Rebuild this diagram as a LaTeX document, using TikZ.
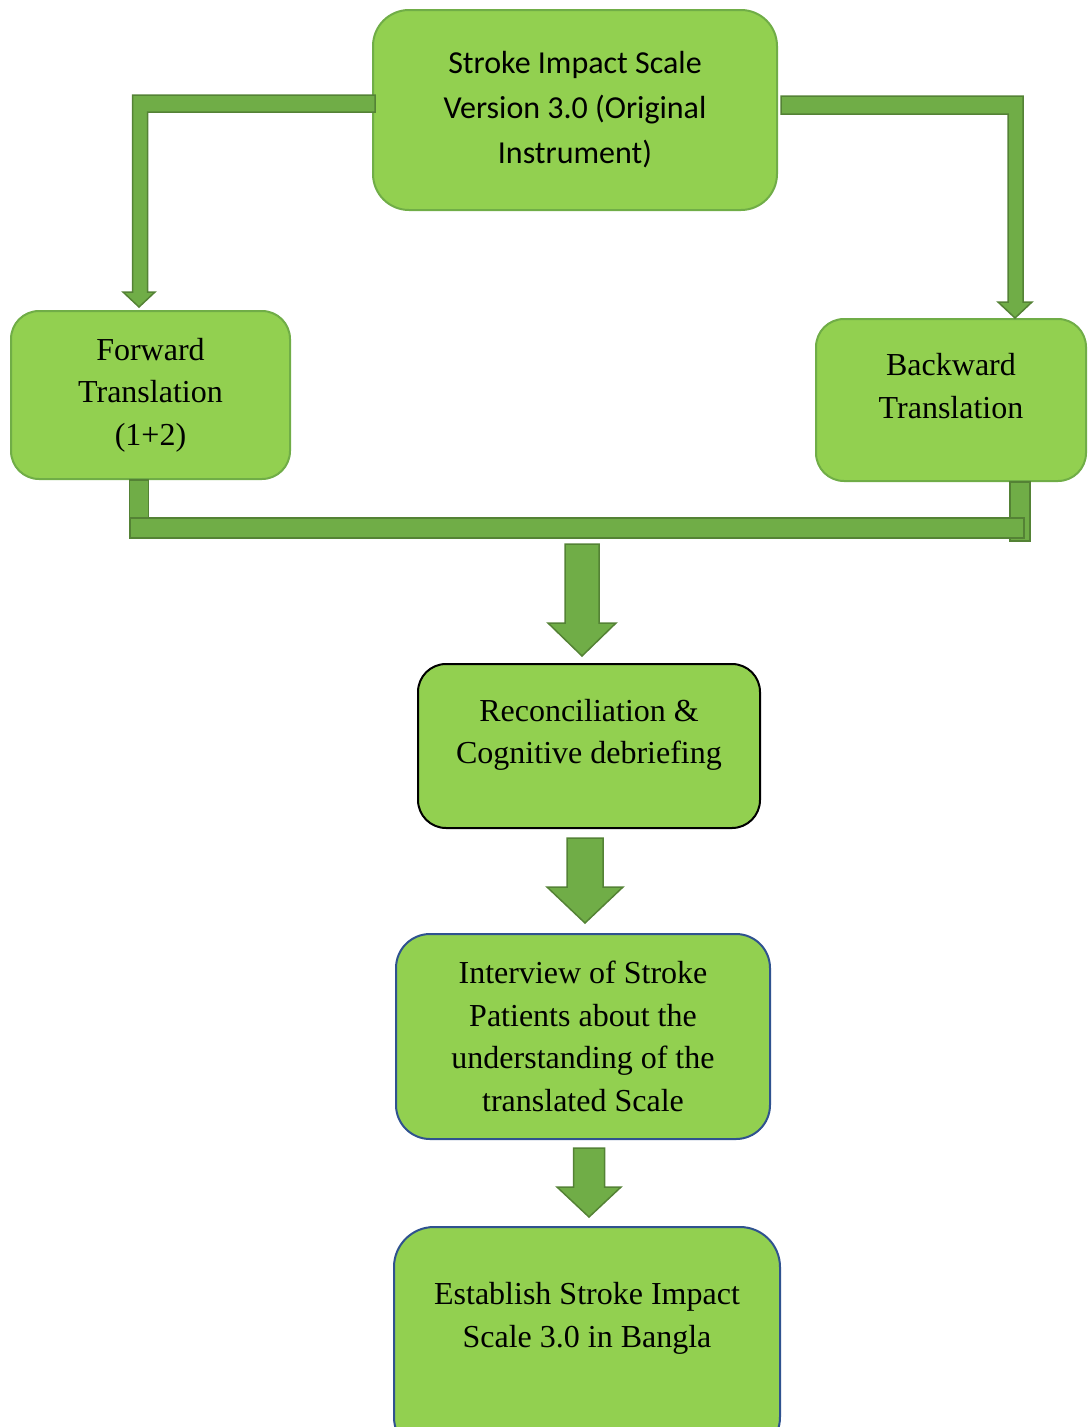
\documentclass[tikz,border=0pt]{standalone}
\usepackage{fontspec}
\setmainfont{Liberation Serif}
\newfontfamily\calibrifont{Carlito}
\usetikzlibrary{calc}

\definecolor{boxgreen}{HTML}{92D050}
\definecolor{boxedge}{HTML}{70AD47}
\definecolor{connfill}{HTML}{70AD47}
\definecolor{connedge}{HTML}{548235}
\definecolor{boxblue}{HTML}{2F528F}

\begin{document}
\begin{tikzpicture}[x=1pt,y=-1pt,
	stage/.style={ rectangle, rounded corners=28pt, fill=boxgreen, draw=boxedge, line width=2pt, align=center, inner sep=0pt, font=\fontsize{32}{42.5}\selectfont },
	conn/.style={ fill=connfill, draw=connedge, line width=1.5pt, line join=miter }
]

\useasboundingbox (0,0) rectangle (1087,1427);

% the stages
\node at (575,110) (sis) [stage,font=\calibrifont\fontsize{32}{45}\selectfont,rounded corners=36pt,minimum width=404pt,minimum height=200pt] {Stroke Impact Scale\\Version 3.0 (Original\\Instrument)};
\node at (150.5,395) (fwd) [stage,minimum width=279pt,minimum height=168pt] {Forward\\Translation\\(1+2)};
\node at (951,400) (bwd) [stage,minimum width=270pt,minimum height=162pt,text depth=28pt] {Backward\\Translation};
\node at (589,746) (recon) [stage,draw=black,minimum width=342pt,minimum height=164pt,text depth=29pt] {Reconciliation \&\\Cognitive debriefing};
\node at (583,1036.5) (intv) [stage,draw=boxblue,rounded corners=34pt,minimum width=374pt,minimum height=205pt] {Interview of Stroke\\Patients about the\\understanding of the\\translated Scale};
\node at (587,1342) (estb) [stage,draw=boxblue,rounded corners=40pt,minimum width=386pt,minimum height=230pt,text depth=54pt] {Establish Stroke Impact\\Scale 3.0 in Bangla};

% left branch
\coordinate (fa) at ($(sis.west)+(3,-6.5)$);
\coordinate (ftip) at ($(fwd.north)+(-11.5,-3)$);
\coordinate (fc) at (ftip |- fa);
\draw[conn] ($(fa)+(0,-8.5)$) -- ($(fc)+(-6.5,-8.5)$) -- ($(ftip)+(-6.5,-15)$) -- ($(ftip)+(-16,-15)$) -- (ftip)
  -- ($(ftip)+(16,-15)$) -- ($(ftip)+(8.5,-15)$) -- ($(fc)+(8.5,8.5)$) -- ($(fa)+(0,8.5)$) -- cycle;

% right branch
\coordinate (ba) at ($(sis.east)+(3,-5)$);
\coordinate (btip) at ($(bwd.north)+(64,0)$);
\coordinate (bc) at (btip |- ba);
\draw[conn] ($(ba)+(0,-9)$) -- ($(bc)+(8,-9)$) -- ($(btip)+(8,-16)$) -- ($(btip)+(17,-16)$) -- (btip)
  -- ($(btip)+(-17,-16)$) -- ($(btip)+(-7,-16)$) -- ($(bc)+(-7,9)$) -- ($(ba)+(0,9)$) -- cycle;

% joining bar
\draw[conn] ($(fwd.south)+(-21,0)$) rectangle ($(fwd.south)+(-2,58)$);
\draw[conn] ($(bwd.south)+(59,0)$) rectangle ($(bwd.south)+(79,59)$);
\draw[conn] ($(fwd.south)+(-20,38)$) rectangle ($(bwd.south)+(73,56)$);

% downward steps
\coordinate (t1) at ($(recon.north)+(-7,-7)$);
\draw[conn] ($(t1)+(-17,-112)$) -- ($(t1)+(-17,-33)$) -- ($(t1)+(-34,-33)$) -- (t1)
  -- ($(t1)+(34,-33)$) -- ($(t1)+(17,-33)$) -- ($(t1)+(17,-112)$) -- cycle;
\coordinate (t2) at ($(intv.north)+(2,-10)$);
\draw[conn] ($(t2)+(-18,-85)$) -- ($(t2)+(-18,-36)$) -- ($(t2)+(-38,-36)$) -- (t2)
  -- ($(t2)+(38,-36)$) -- ($(t2)+(18,-36)$) -- ($(t2)+(18,-85)$) -- cycle;
\coordinate (t3) at ($(estb.north)+(2,-9)$);
\draw[conn] ($(t3)+(-15.5,-69)$) -- ($(t3)+(-15.5,-30)$) -- ($(t3)+(-32,-30)$) -- (t3)
  -- ($(t3)+(32,-30)$) -- ($(t3)+(15.5,-30)$) -- ($(t3)+(15.5,-69)$) -- cycle;

\end{tikzpicture}
\end{document}
